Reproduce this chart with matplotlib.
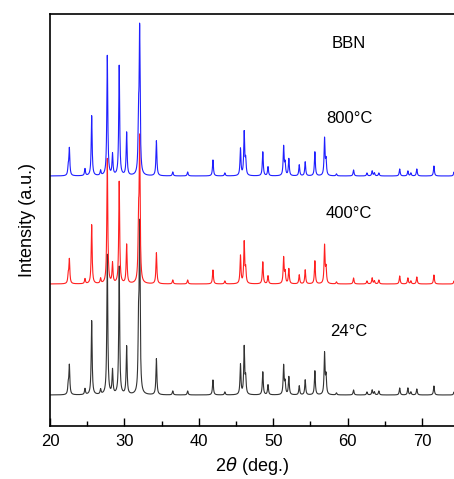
import numpy as np
import matplotlib.pyplot as plt

plt.rcParams["font.family"] = ["Liberation Sans", "DejaVu Sans"]

pos_24 = [22.45, 22.6, 24.7, 25.6, 26.8, 27.7, 28.4, 29.3, 30.3, 31.9, 32.05,
          34.3, 36.5, 38.5, 41.9, 43.5, 45.6, 46.1, 46.3, 48.6, 49.3, 51.4,
          51.6, 52.1, 53.5, 54.3, 55.6, 56.9, 57.1, 58.5, 60.8, 62.6, 63.3,
          63.6, 64.2, 67.0, 68.1, 68.5, 69.3, 71.6, 74.3]
int_24 = [9, 29, 6, 74, 5, 140, 24, 128, 48, 60, 165,
          36, 4, 4, 15, 3, 30, 47, 16, 23, 10, 29,
          12, 18, 9, 15, 24, 41, 18, 2, 5, 3, 5,
          3, 4, 7, 7, 3, 6, 9, 3]

pos_400 = [22.45, 22.6, 24.7, 25.6, 26.8, 27.7, 28.4, 29.3, 30.3, 31.9, 32.05,
           34.3, 36.5, 38.5, 41.9, 43.5, 45.6, 46.1, 46.3, 48.6, 49.3, 51.4,
           51.6, 52.1, 53.5, 54.3, 55.6, 56.9, 57.1, 58.5, 60.8, 62.6, 63.3,
           63.6, 64.2, 67.0, 68.1, 68.5, 69.3, 71.6, 74.3]
int_400 = [8, 24, 5, 59, 5, 125, 20, 102, 39, 55, 140,
           31, 4, 4, 14, 3, 28, 41, 14, 22, 8, 26,
           11, 15, 9, 14, 23, 38, 15, 2, 6, 3, 6,
           3, 4, 8, 6, 3, 7, 9, 3]

pos_800 = [22.45, 22.6, 24.7, 25.6, 26.8, 27.7, 28.4, 29.3, 30.3, 31.9, 32.05,
           34.3, 36.5, 38.5, 41.9, 43.5, 45.6, 46.1, 46.3, 48.6, 49.3, 51.4,
           51.6, 52.1, 53.5, 54.3, 55.6, 56.9, 57.1, 58.5, 60.8, 62.6, 63.3,
           63.6, 64.2, 67.0, 68.1, 68.5, 69.3, 71.6, 74.3]
int_800 = [8, 27, 7, 60, 5, 120, 21, 110, 43, 50, 144,
           35, 4, 4, 16, 3, 27, 43, 15, 24, 9, 29,
           12, 17, 11, 14, 24, 37, 15, 2, 6, 3, 5,
           3, 3, 7, 5, 3, 7, 10, 4]

offsets = [0, 111, 219]
labels = ["24°C", "400°C", "800°C", "BBN"]
label_y = [64, 181, 277, 352]


def profile(tt, pos, h, w=0.15):
    y = np.zeros_like(tt)
    for p, a in zip(pos, h):
        y += a / (1 + ((tt - p) / (w / 2)) ** 2)
    return y


tt = np.arange(20, 75, 0.02)

fig = plt.figure(figsize=(4.54, 4.79), dpi=100)
ax = fig.add_axes([50 / 454, 1 - 426 / 479, 404 / 454, 412 / 479])

ax.plot(tt, profile(tt, pos_24, int_24) + offsets[0], color="#333333", lw=0.8)
ax.plot(tt, profile(tt, pos_400, int_400) + offsets[1], color="#ff2020", lw=0.8)
ax.plot(tt, profile(tt, pos_800, int_800) + offsets[2], color="#2020ff", lw=0.8)

for lab, yy in zip(labels, label_y):
    ax.text(60.2, yy, lab, ha="center", va="center", fontsize=12)

ax.set_xlim(20, 74.3)
ax.set_ylim(-31, 381)
ax.set_xticks([20, 30, 40, 50, 60, 70])
ax.set_xticks([25, 35, 45, 55, 65], minor=True)
ax.set_yticks([])
ax.tick_params(axis="x", which="major", direction="in", length=6, width=1,
               labelsize=12, pad=6)
ax.tick_params(axis="x", which="minor", direction="in", length=3.5, width=1)
ax.spines["right"].set_visible(False)
for s in ["left", "top", "bottom"]:
    ax.spines[s].set_linewidth(1.2)

ax.set_xlabel(r"2$\theta$ (deg.)", fontsize=13, labelpad=4)
ax.set_ylabel("Intensity (a.u.)", fontsize=13, labelpad=10)

fig.savefig("out.png", dpi=100)
